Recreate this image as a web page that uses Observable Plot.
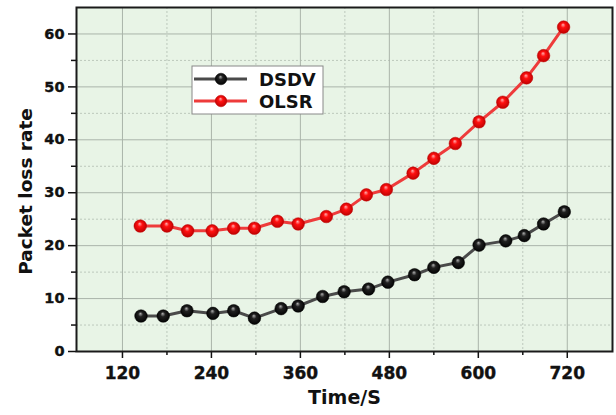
<!DOCTYPE html>
<html><head><meta charset="utf-8">
<script src="https://cdn.jsdelivr.net/npm/d3@7"></script>
<script src="https://cdn.jsdelivr.net/npm/@observablehq/plot@0.6"></script>
<style>
body{margin:0;background:#fff}
#chart{position:relative;width:616px;height:415px}
</style>
</head><body><div id="chart"></div>
<script>
const seriesNames = ["DSDV", "OLSR"];
const dsdvTime = [145, 175, 207, 242, 270, 298, 334, 357, 390, 419, 452, 478, 514, 540, 573, 601, 637, 662, 688, 716];
const dsdvLoss = [6.7, 6.7, 7.7, 7.2, 7.7, 6.3, 8.1, 8.6, 10.4, 11.3, 11.8, 13.1, 14.5, 15.9, 16.8, 20.1, 20.9, 21.9, 24.1, 26.4];
const olsrTime = [144, 180, 208, 241, 270, 298, 329, 357, 395, 422, 449, 476, 512, 540, 569, 601, 633, 665, 688, 715];
const olsrLoss = [23.7, 23.7, 22.8, 22.8, 23.3, 23.3, 24.6, 24.1, 25.5, 26.9, 29.6, 30.6, 33.7, 36.5, 39.3, 43.4, 47.1, 51.7, 55.9, 61.3];
const xTicks = [120, 240, 360, 480, 600, 720];
const xMinor = [180, 300, 420, 540, 660];
const yTicks = [0, 10, 20, 30, 40, 50, 60];
const yMinor = [5, 15, 25, 35, 45, 55];
const xLabel = "Time/S";
const yLabel = "Packet loss rate";

const dsdv = dsdvTime.map((t, i) => ({time: t, loss: dsdvLoss[i]}));
const olsr = olsrTime.map((t, i) => ({time: t, loss: olsrLoss[i]}));

const FONT = "DejaVu Sans";

const plot = Plot.plot({
  width: 616,
  height: 415,
  marginLeft: 76,
  marginRight: 4,
  marginTop: 7,
  marginBottom: 64,
  style: {fontFamily: FONT, fontWeight: "bold", background: "#fff", overflow: "visible"},
  x: {domain: [58, 781]},
  y: {domain: [0, 65]},
  marks: [
    Plot.frame({fill: "#e8f4e6", stroke: null}),
    Plot.gridX(xMinor, {stroke: "#bcc8bc", strokeOpacity: 1, strokeDasharray: "2,2"}),
    Plot.gridY(yMinor, {stroke: "#bcc8bc", strokeOpacity: 1, strokeDasharray: "2,2"}),
    Plot.gridX(xTicks, {stroke: "#aab4aa", strokeOpacity: 1}),
    Plot.gridY(yTicks, {stroke: "#aab4aa", strokeOpacity: 1}),
    Plot.axisX(xTicks, {tickSize: 7, stroke: "#111", strokeWidth: 1.5, label: null, fill: "none"}),
    Plot.text(xTicks, {x: d => d, text: d => String(d), frameAnchor: "bottom", lineAnchor: "top", dy: 15, fontSize: 17, fontWeight: "bold", fill: "#111", stroke: "#111", strokeWidth: 0.4}),
    Plot.axisX(xMinor, {tickSize: 4, fill: "none", stroke: "#111", strokeWidth: 1.5, label: null}),
    Plot.axisY(yTicks, {tickSize: 8, fill: "none", stroke: "#111", strokeWidth: 1.5, label: null}),
    Plot.text(yTicks, {y: d => d, text: d => String(d), frameAnchor: "left", textAnchor: "end", dx: -12, fontSize: 14.5, fontWeight: "bold", fill: "#111", stroke: "#111", strokeWidth: 0.4}),
    Plot.axisY(yMinor, {tickSize: 5, fill: "none", stroke: "#111", strokeWidth: 1.5, label: null}),
    Plot.text([yLabel], {text: d => d, frameAnchor: "left", textAnchor: "middle", dx: -50, dy: 12, rotate: -90, fontSize: 18.5, fontWeight: "bold", fill: "#111"}),
    Plot.text([xLabel], {text: d => d, frameAnchor: "bottom", textAnchor: "middle", dy: 52, fontSize: 19, fontWeight: "bold", fill: "#111"}),
    Plot.line(dsdv, {x: "time", y: "loss", stroke: "#4a4a4a", strokeWidth: 3}),
    Plot.line(olsr, {x: "time", y: "loss", stroke: "#ee3b3b", strokeWidth: 3}),
    Plot.dot(dsdv, {x: "time", y: "loss", r: 6.3, fill: "url(#sphBlack)", stroke: "#000", strokeWidth: 0.5}),
    Plot.dot(olsr, {x: "time", y: "loss", r: 6.3, fill: "url(#sphRed)", stroke: "#c00000", strokeWidth: 0.5}),
    Plot.frame({stroke: "#1a1a1a", strokeWidth: 2})
  ]
});

const svg = d3.select(plot);
const defs = svg.insert("defs", ":first-child");
function sphere(id, hi, mid, edge) {
  const g = defs.append("radialGradient").attr("id", id)
    .attr("cx", "50%").attr("cy", "50%").attr("r", "55%")
    .attr("fx", "45%").attr("fy", "30%");
  g.append("stop").attr("offset", "0%").attr("stop-color", hi);
  g.append("stop").attr("offset", "35%").attr("stop-color", mid);
  g.append("stop").attr("offset", "100%").attr("stop-color", edge);
}
sphere("sphRed", "#ffb0b0", "#ff1010", "#b80000");
sphere("sphBlack", "#b0b0b0", "#202020", "#000000");

// legend
const lg = svg.append("g").attr("font-family", FONT).attr("text-anchor", "start");
lg.append("rect").attr("x", 192).attr("y", 66).attr("width", 131).attr("height", 48)
  .attr("fill", "#fff").attr("stroke", "#888").attr("stroke-width", 1);
const legendItems = [
  {name: seriesNames[0], line: "#4a4a4a", fill: "url(#sphBlack)", stroke: "#000", y: 79},
  {name: seriesNames[1], line: "#ee3b3b", fill: "url(#sphRed)", stroke: "#c00000", y: 101}
];
legendItems.forEach(it => {
  lg.append("line").attr("x1", 194).attr("x2", 247).attr("y1", it.y).attr("y2", it.y)
    .attr("stroke", it.line).attr("stroke-width", 3);
  lg.append("circle").attr("cx", 221).attr("cy", it.y).attr("r", 5.8)
    .attr("fill", it.fill).attr("stroke", it.stroke).attr("stroke-width", 0.5);
  lg.append("text").attr("x", 259).attr("y", it.y + 6.5).text(it.name)
    .attr("text-anchor", "start")
    .attr("font-size", 18).attr("font-weight", "bold").attr("fill", "#111");
});

document.getElementById("chart").appendChild(plot);
</script>
</body></html>
